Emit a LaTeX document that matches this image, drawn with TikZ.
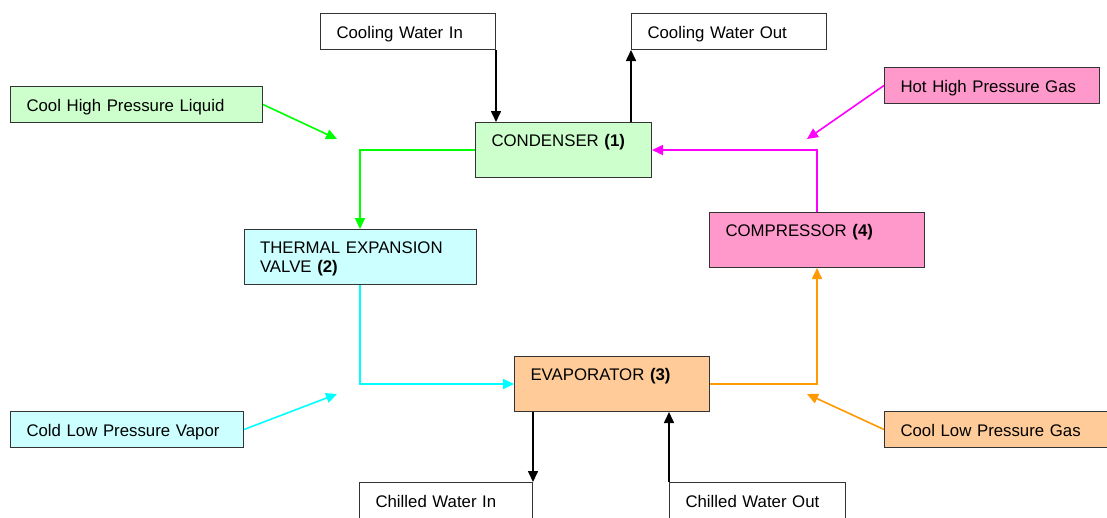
\documentclass[tikz,border=0pt]{standalone}
\usepackage{fontspec}
\setmainfont{Liberation Sans}
\usepackage{tikz}
\usetikzlibrary{arrows.meta}

\definecolor{condfill}{HTML}{CCFFCC}
\definecolor{condline}{HTML}{00FF00}
\definecolor{valvefill}{HTML}{CCFFFF}
\definecolor{valveline}{HTML}{00FFFF}
\definecolor{compfill}{HTML}{FF99CC}
\definecolor{compline}{HTML}{FF00FF}
\definecolor{evapfill}{HTML}{FFCC99}
\definecolor{evapline}{HTML}{FF9900}

\begin{document}
\begin{tikzpicture}[x=1pt, y=-1pt, font=\fontsize{16.8}{19}\selectfont,
		tag/.style={draw=black!80, line width=1pt, anchor=north west, minimum height=36pt,
			inner xsep=16pt, inner ysep=0pt, align=left, text height=14pt, text depth=0pt},
		unit/.style={tag, inner ysep=8pt, text height=16pt, text depth=23pt},
		flow/.style={-{Triangle[length=11pt,width=10pt]}, line width=1.6pt}]
		\path[use as bounding box, fill=white] (0,0) rectangle (1107,517);

		\node[unit, fill=condfill, text width=144pt] (cond) at (475,122) {CONDENSER \textbf{(1)}};
		\node[unit, fill=valvefill, text width=200pt] (valve) at (243.5,229) {THERMAL EXPANSION\\VALVE \textbf{(2)}};
		\node[unit, fill=evapfill, text width=163pt] (evap) at (514,356) {EVAPORATOR \textbf{(3)}};
		\node[unit, fill=compfill, text width=183pt] (comp) at (709,212) {COMPRESSOR \textbf{(4)}};

		\node[tag, text width=143pt] (cwin) at (320,13) {Cooling Water In};
		\node[tag, text width=163pt] (cwout) at (631,13) {Cooling Water Out};
		\node[tag, text width=141pt] (chwin) at (359,482) {Chilled Water In};
		\node[tag, text width=144pt] (chwout) at (669,482) {Chilled Water Out};
		\node[tag, fill=condfill, text width=220pt] (hpliq) at (10,86) {Cool High Pressure Liquid};
		\node[tag, fill=compfill, text width=183pt] (hpgas) at (884,67) {Hot High Pressure Gas};
		\node[tag, fill=valvefill, text width=201pt] (lpvap) at (10,411) {Cold Low Pressure Vapor};
		\node[tag, fill=evapfill, text width=200pt] (lpgas) at (884,411) {Cool Low Pressure Gas};

		\coordinate (hpliqtip) at (337,139);
		\coordinate (hpgastip) at (807,139);
		\coordinate (lpvaptip) at (337,394);
		\coordinate (lpgastip) at (807,394);

		\draw[flow] (cwin.south east) -- (cwin.south east |- cond.north);
		\draw[flow] (cwout.south west |- cond.north) -- (cwout.south west);
		\draw[flow] (chwin.north east |- evap.south) -- (chwin.north east);
		\draw[flow] (chwout.north west) -- (chwout.north west |- evap.south);

		\draw[flow, condline] (cond.west) -| (valve.north);
		\draw[flow, valveline] (valve.south) |- (evap.west);
		\draw[flow, evapline] (evap.east) -| (comp.south);
		\draw[flow, compline] (comp.north) |- (cond.east);

		\draw[flow, condline] (hpliq.east) -- (hpliqtip);
		\draw[flow, compline] (hpgas.west) -- (hpgastip);
		\draw[flow, valveline] (lpvap.east) -- (lpvaptip);
		\draw[flow, evapline] (lpgas.west) -- (lpgastip);
	\end{tikzpicture}
\end{document}
